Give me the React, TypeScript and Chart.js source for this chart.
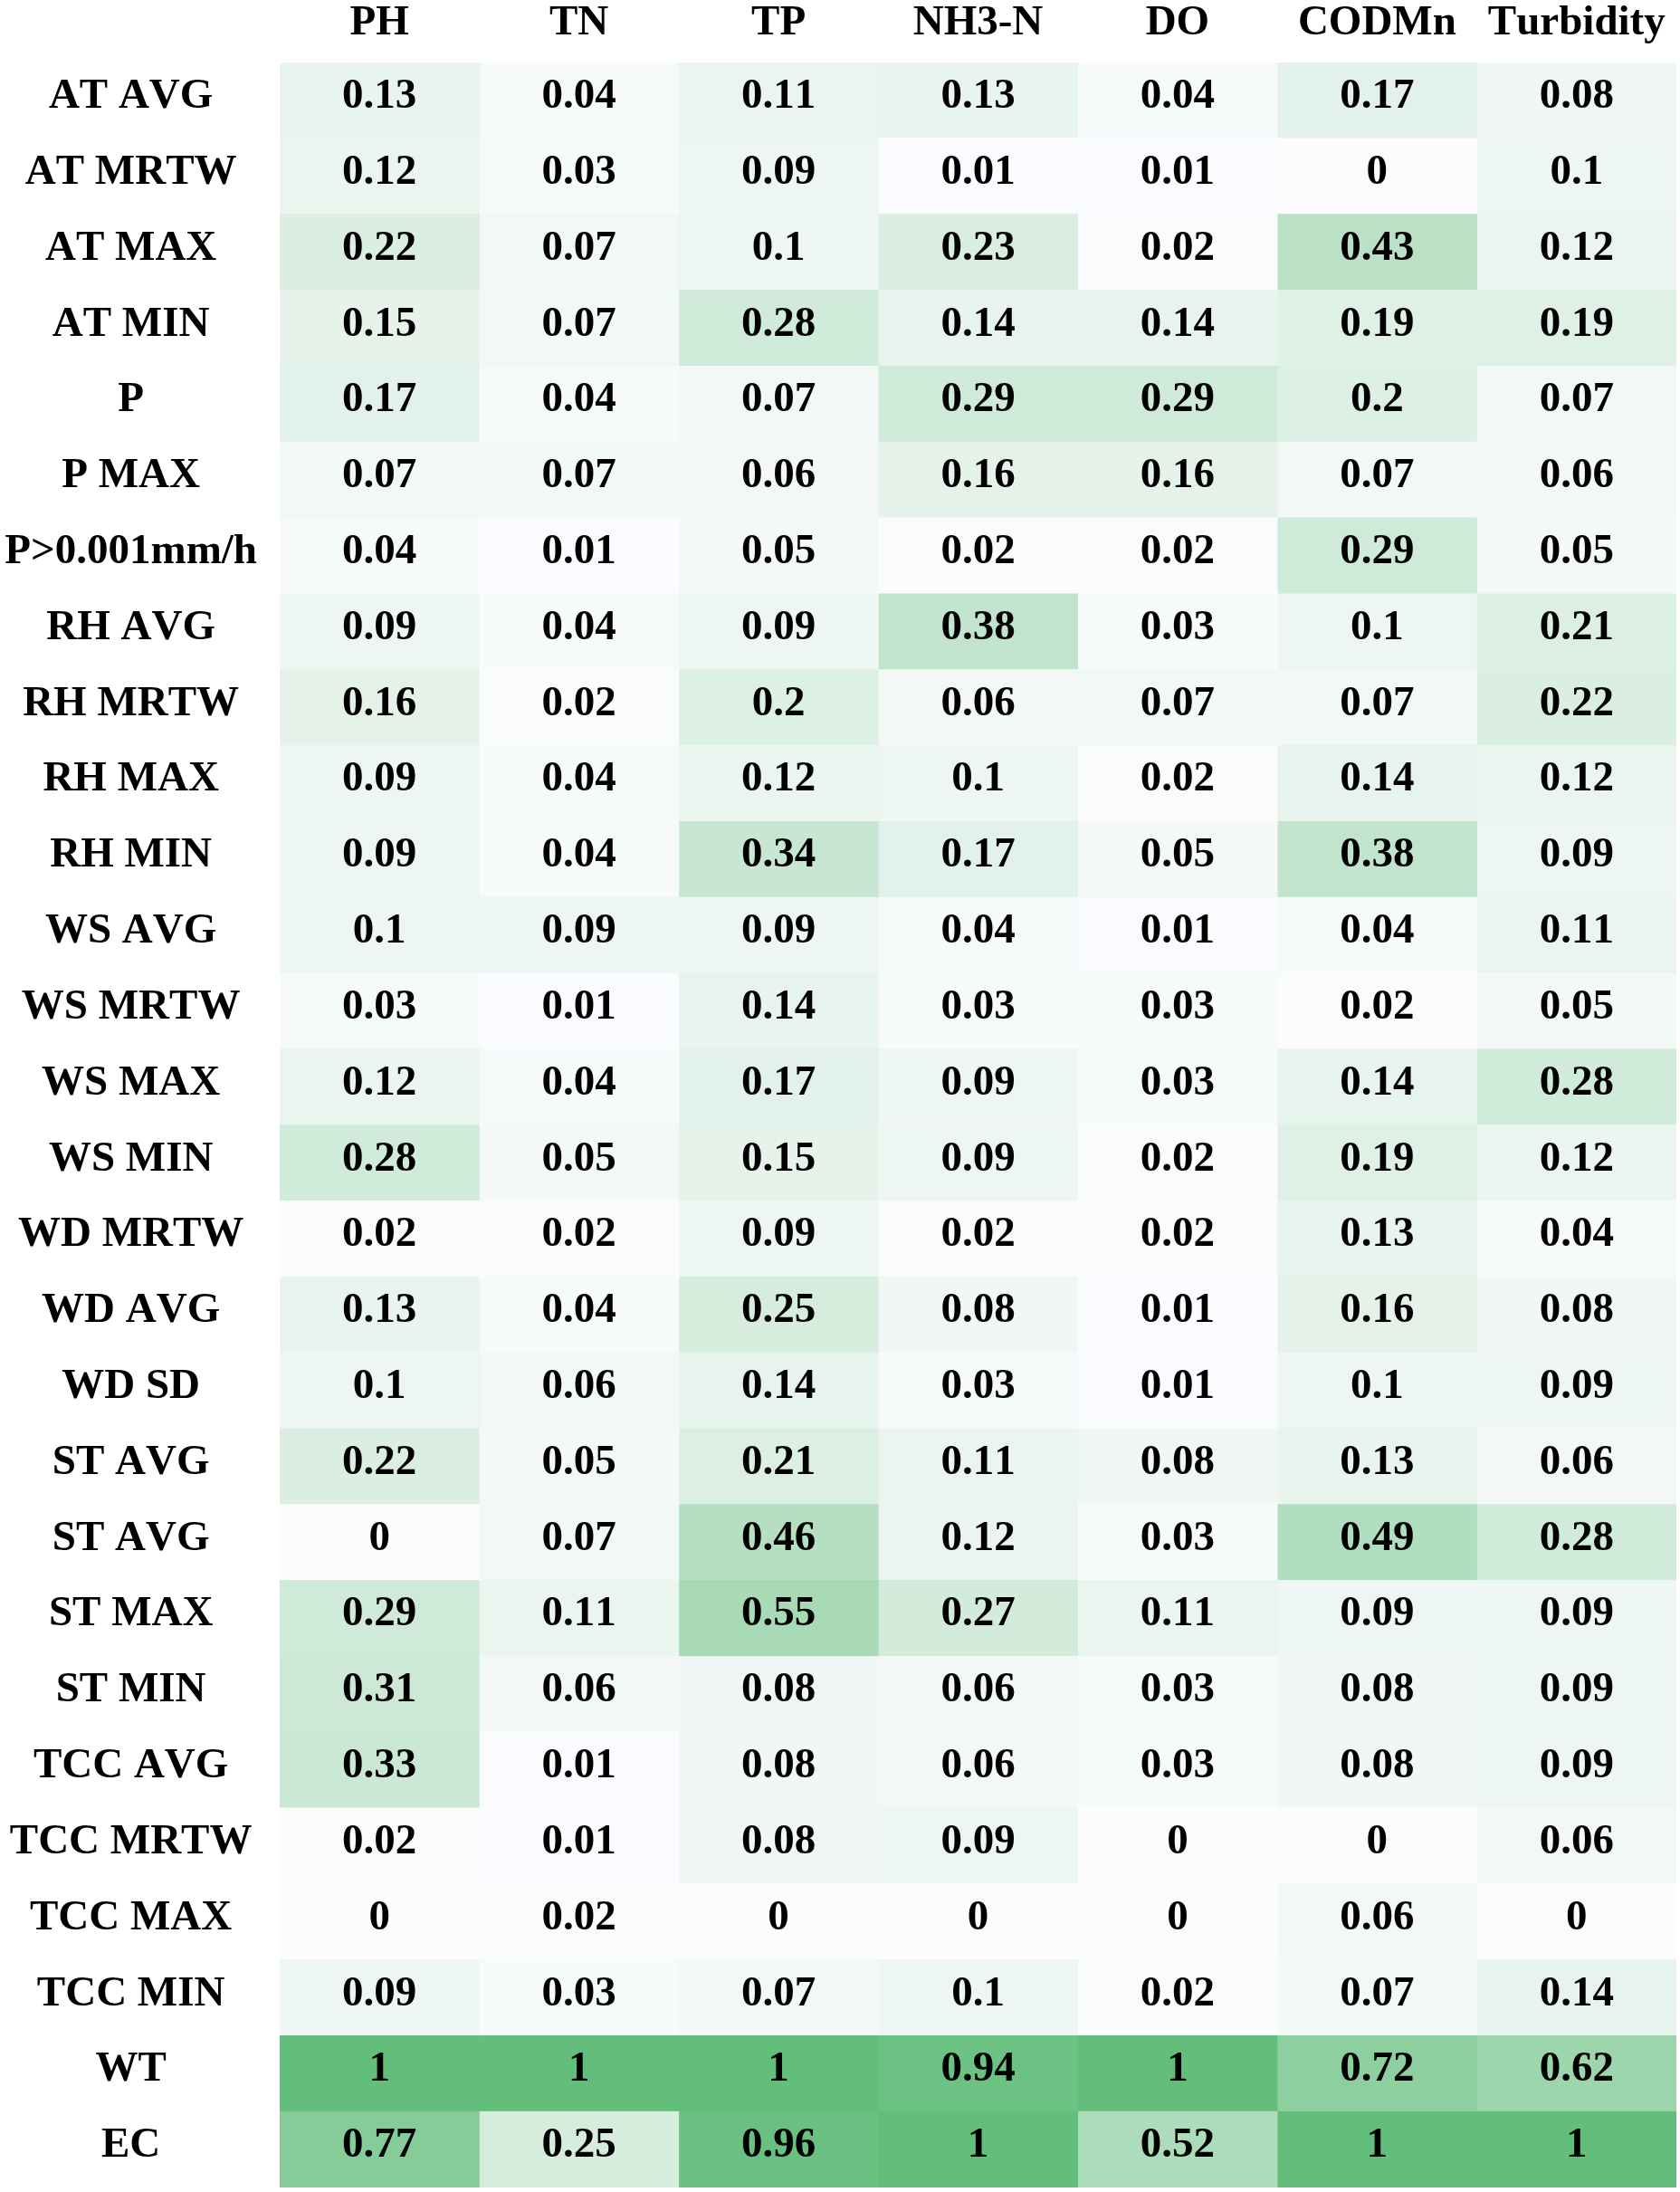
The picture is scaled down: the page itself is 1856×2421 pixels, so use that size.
import React, { useEffect, useRef } from "react";
import { Chart, registerables } from "chart.js";

Chart.register(...registerables);

const rowLabels = [
  "AT AVG", "AT MRTW", "AT MAX", "AT MIN", "P", "P MAX", "P>0.001mm/h",
  "RH AVG", "RH MRTW", "RH MAX", "RH MIN", "WS AVG", "WS MRTW", "WS MAX",
  "WS MIN", "WD MRTW", "WD AVG", "WD SD", "ST AVG", "ST AVG", "ST MAX",
  "ST MIN", "TCC AVG", "TCC MRTW", "TCC MAX", "TCC MIN", "WT", "EC",
];

const columnLabels = ["PH", "TN", "TP", "NH3-N", "DO", "CODMn", "Turbidity"];

const phValues = [0.13, 0.12, 0.22, 0.15, 0.17, 0.07, 0.04, 0.09, 0.16, 0.09, 0.09, 0.1, 0.03, 0.12, 0.28, 0.02, 0.13, 0.1, 0.22, 0, 0.29, 0.31, 0.33, 0.02, 0, 0.09, 1, 0.77];
const tnValues = [0.04, 0.03, 0.07, 0.07, 0.04, 0.07, 0.01, 0.04, 0.02, 0.04, 0.04, 0.09, 0.01, 0.04, 0.05, 0.02, 0.04, 0.06, 0.05, 0.07, 0.11, 0.06, 0.01, 0.01, 0.02, 0.03, 1, 0.25];
const tpValues = [0.11, 0.09, 0.1, 0.28, 0.07, 0.06, 0.05, 0.09, 0.2, 0.12, 0.34, 0.09, 0.14, 0.17, 0.15, 0.09, 0.25, 0.14, 0.21, 0.46, 0.55, 0.08, 0.08, 0.08, 0, 0.07, 1, 0.96];
const nh3nValues = [0.13, 0.01, 0.23, 0.14, 0.29, 0.16, 0.02, 0.38, 0.06, 0.1, 0.17, 0.04, 0.03, 0.09, 0.09, 0.02, 0.08, 0.03, 0.11, 0.12, 0.27, 0.06, 0.06, 0.09, 0, 0.1, 0.94, 1];
const doValues = [0.04, 0.01, 0.02, 0.14, 0.29, 0.16, 0.02, 0.03, 0.07, 0.02, 0.05, 0.01, 0.03, 0.03, 0.02, 0.02, 0.01, 0.01, 0.08, 0.03, 0.11, 0.03, 0.03, 0, 0, 0.02, 1, 0.52];
const codmnValues = [0.17, 0, 0.43, 0.19, 0.2, 0.07, 0.29, 0.1, 0.07, 0.14, 0.38, 0.04, 0.02, 0.14, 0.19, 0.13, 0.16, 0.1, 0.13, 0.49, 0.09, 0.08, 0.08, 0, 0.06, 0.07, 0.72, 1];
const turbidityValues = [0.08, 0.1, 0.12, 0.19, 0.07, 0.06, 0.05, 0.21, 0.22, 0.12, 0.09, 0.11, 0.05, 0.28, 0.12, 0.04, 0.08, 0.09, 0.06, 0.28, 0.09, 0.09, 0.09, 0.06, 0, 0.14, 0.62, 1];

const columnValues = [phValues, tnValues, tpValues, nh3nValues, doValues, codmnValues, turbidityValues];

const LOW = [252, 252, 255];
const HIGH = [99, 190, 123];

function colorFor(v: number): string {
  const t = Math.max(0, Math.min(1, v));
  const c = LOW.map((l, i) => Math.round(l + (HIGH[i] - l) * t));
  return `rgb(${c[0]},${c[1]},${c[2]})`;
}

const FONT = { family: "'Liberation Serif', 'Times New Roman', serif", size: 47, weight: "bold" as const };

const noKerningPlugin = {
  id: "noKerning",
  beforeInit(chart: any) {
    try { chart.ctx.fontKerning = "none"; } catch (e) {}
  },
  beforeDraw(chart: any) {
    try { chart.ctx.fontKerning = "none"; } catch (e) {}
  },
};

const cellLabelPlugin = {
  id: "cellLabels",
  afterDatasetsDraw(chart: any) {
    const ctx = chart.ctx;
    ctx.save();
    try { ctx.fontKerning = "none"; } catch (e) {}
    ctx.font = `bold ${FONT.size}px ${FONT.family}`;
    ctx.fillStyle = "#000";
    ctx.textAlign = "center";
    ctx.textBaseline = "middle";
    chart.data.datasets.forEach((ds: any, di: number) => {
      const meta = chart.getDatasetMeta(di);
      meta.data.forEach((el: any, i: number) => {
        const { x, y, base } = el.getProps(["x", "y", "base"], true);
        ctx.fillText(String(ds.values[i]), (x + base) / 2, y - 4);
      });
    });
    ctx.restore();
  },
};

export default function App() {
  const canvasRef = useRef<HTMLCanvasElement | null>(null);

  useEffect(() => {
    if (!canvasRef.current) return;
    const datasets = columnValues.map((vals, c) => ({
      label: columnLabels[c],
      values: vals,
      data: vals.map(() => [c, c + 1]),
      backgroundColor: vals.map(colorFor),
      borderWidth: 0,
      grouped: false,
      barPercentage: 1,
      categoryPercentage: 1,
    }));

    const chart = new Chart(canvasRef.current, {
      type: "bar",
      data: { labels: rowLabels, datasets: datasets as any },
      plugins: [noKerningPlugin, cellLabelPlugin],
      options: {
        indexAxis: "y",
        responsive: false,
        maintainAspectRatio: false,
        animation: false,
        layout: { padding: { left: 0, right: 4, top: 0, bottom: 5 } },
        plugins: {
          legend: { display: false },
          tooltip: { enabled: false },
        },
        scales: {
          x: {
            type: "linear",
            position: "top",
            min: 0,
            max: 7,
            grid: { display: false, drawTicks: false },
            border: { display: false },
            afterBuildTicks: (scale: any) => {
              scale.ticks = columnLabels.map((_, i) => ({ value: i + 0.5 }));
            },
            afterFit: (scale: any) => {
              scale.height = 69;
              scale.paddingLeft = 0;
              scale.paddingRight = 0;
            },
            ticks: {
              autoSkip: false,
              maxRotation: 0,
              minRotation: 0,
              padding: 15,
              color: "#000",
              font: FONT,
              callback: (v: any) => columnLabels[Math.floor(Number(v))],
            },
          },
          y: {
            type: "category",
            grid: { display: false, drawTicks: false },
            border: { display: false },
            afterFit: (scale: any) => {
              scale.width = 309;
              scale.paddingTop = 0;
              scale.paddingBottom = 0;
            },
            ticks: {
              autoSkip: false,
              crossAlign: "center",
              padding: 25,
              labelOffset: -4,
              color: "#000",
              font: FONT,
            },
          },
        },
      } as any,
    });
    return () => chart.destroy();
  }, []);

  return (
    <div style={{ position: "absolute", left: 0, top: 0, width: 1856, height: 2421, background: "#fff" }}>
      <canvas ref={canvasRef} width={1856} height={2421} style={{ width: 1856, height: 2421, display: "block" }} />
    </div>
  );
}
